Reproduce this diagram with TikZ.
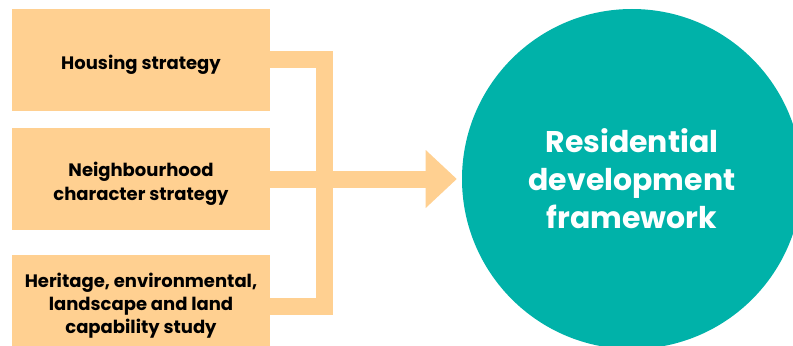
\documentclass[tikz,border=0pt]{standalone}
\usepackage{fontspec}
\setmainfont{Poppins}
\usetikzlibrary{arrows.meta}
\definecolor{boxorange}{RGB}{255,208,145}
\definecolor{frameteal}{RGB}{0,178,169}

\begin{document}
\begin{tikzpicture}[
  inputbox/.style={fill=boxorange, minimum width=6.45cm, minimum height=2.55cm, inner sep=0pt,
    align=center, font=\fontsize{12.8}{16.4}\selectfont\bfseries},
  flow/.style={draw=boxorange, line width=0.425cm}]
\useasboundingbox (0,0) rectangle (19.825,8.625);
\path (3.525,7.125) node[inputbox, text height=0.6cm, text depth=0.12cm] (housing) {Housing strategy};
\path (3.525,4.15) node[inputbox, text height=1.17cm, text depth=0.12cm] (character) {Neighbourhood\\character strategy};
\path (3.525,0.975) node[inputbox] (heritage) {Heritage, environmental,\\landscape and land\\capability study};
\path (15.8,4.15) node[circle, fill=frameteal, minimum size=8.5cm, inner sep=0pt, text=white,
  align=center, font=\fontsize{21.3}{27}\selectfont\bfseries] (framework) {Residential\\development\\framework};
\coordinate (bus) at (8.1,0);
\draw[flow] (housing.east) -- (housing.east -| bus) |- (heritage.east);
\draw[flow, -{Triangle[length=0.775cm, width=1.45cm, line width=0pt]}, shorten >=0.125cm]
  (character.east) -- (framework.west);
\end{tikzpicture}
\end{document}
